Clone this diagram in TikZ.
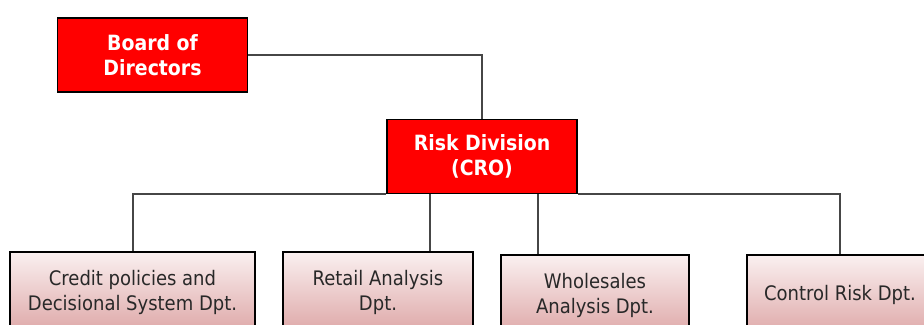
\documentclass[tikz,border=0pt]{standalone}
\usepackage{fontspec}
\setmainfont{DejaVu Sans Condensed}
\usetikzlibrary{calc,backgrounds,positioning}
\usepackage{xcolor}
\definecolor{boxred}{RGB}{255,0,0}
\definecolor{depttop}{RGB}{250,240,240}
\definecolor{deptbottom}{RGB}{222,168,168}
\definecolor{linkgray}{RGB}{70,70,70}
\definecolor{depttext}{RGB}{40,40,40}

\begin{document}
\begin{tikzpicture}[%
    x=0.5pt, y=-0.5pt,%
    show background rectangle,%
    tight background,%
    background rectangle/.style={fill=white}%
  ]
  \tikzset{%
    topbox/.style={%
      draw=black, line width=0.9pt, fill=boxred, text=white,%
      font=\fontsize{10.5}{12.5}\selectfont\bfseries, align=center,%
      minimum width=95pt, minimum height=37pt, inner sep=0pt%
    },%
    deptbox/.style={%
      draw=black, line width=0.9pt, top color=depttop, bottom color=deptbottom,%
      text=depttext, font=\fontsize{10}{12.5}\selectfont, align=center,%
      minimum height=40pt, inner sep=0pt%
    },%
    link/.style={draw=linkgray, line width=1pt}%
  }%
  \useasboundingbox (0,0) rectangle (924,325);%

  %
  % Direction
  %
  \node[topbox] (board) at (152.5,55) {Board of\\Directors};%
  \node[topbox] (risk) at (482,156.5) {Risk Division\\(CRO)};%

  %
  % Departements
  %
  \node[deptbox, minimum width=122.5pt] (credit) at (132.5,292) {Credit policies and\\Decisional System Dpt.};%
  \node[deptbox, minimum width=95pt] (retail) at (378,292) {Retail Analysis\\Dpt.};%
  \node[deptbox, minimum width=94pt] (whole) at (595,295) {Wholesales\\Analysis Dpt.};%
  \node[deptbox, minimum width=93pt] (control) at (840,295) {Control Risk Dpt.};%

  %
  % Liaisons
  %
  \path[link] (board.east) -| (risk.north);%
  \path[link] (credit.north) |- (risk.south west);%
  \path[link] (risk.south east) -| (control.north);%
  \path[link] ([xshift=26pt]retail.north) -- ([xshift=26pt]retail.north |- risk.south);%
  \path[link] ([xshift=-28.5pt]whole.north) -- ([xshift=-28.5pt]whole.north |- risk.south);%
\end{tikzpicture}
\end{document}
